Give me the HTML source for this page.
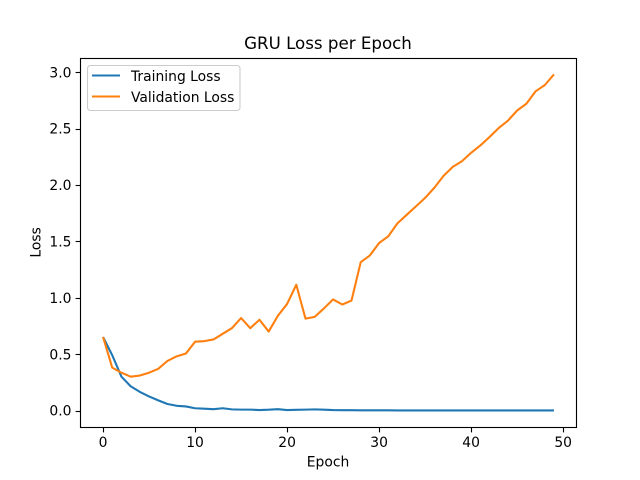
<!DOCTYPE html>
<html>
<head>
<meta charset="utf-8">
<title>GRU Loss per Epoch</title>
<style>
html,body{margin:0;padding:0;background:#fff;}
svg{display:block;}
text{font-family:"DejaVu Sans",sans-serif;fill:#000;}
</style>
</head>
<body>
<svg id="chart" xmlns="http://www.w3.org/2000/svg" width="640" height="480" viewBox="0 0 640 480">
  <rect x="0" y="0" width="640" height="480" fill="#fff"/>
  <g id="series" transform="translate(0.5 0)"></g>
  <g id="xticks"></g>
  <g id="yticks"></g>
  <rect x="80.5" y="58.5" width="496" height="369" fill="none" stroke="#000" stroke-width="1.11"/>
  <text x="328" y="49" font-size="16.67" text-anchor="middle">GRU Loss per Epoch</text>
  <text x="328" y="466.5" font-size="13.89" text-anchor="middle">Epoch</text>
  <text transform="translate(40.5 242.4) rotate(-90)" font-size="13.89" text-anchor="middle">Loss</text>
  <g>
    <rect x="87.5" y="65.5" width="152.5" height="45" rx="3" ry="3" fill="#fff" fill-opacity="0.8" stroke="#ccc" stroke-width="1.11"/>
    <line x1="92" y1="75.5" x2="120" y2="75.5" stroke="#1f77b4" stroke-width="2.08"/>
    <text x="131" y="81" font-size="13.89">Training Loss</text>
    <line x1="92" y1="96.5" x2="120" y2="96.5" stroke="#ff7f0e" stroke-width="2.08"/>
    <text x="131" y="102" font-size="13.89">Validation Loss</text>
  </g>
</svg>
<script>
const trainingLoss = [0.652,0.49,0.30,0.215,0.165,0.125,0.09,0.058,0.042,0.036,0.02,0.016,0.012,0.02,0.01,0.008,0.008,0.004,0.007,0.012,0.004,0.006,0.008,0.01,0.007,0.004,0.003,0.003,0.002,0.002,0.002,0.002,0.001,0.001,0.001,0.001,0.001,0.001,0.001,0.001,0.001,0.001,0.001,0.001,0.001,0.001,0.001,0.001,0.001,0.001];
const validationLoss = [0.652,0.38,0.335,0.30,0.31,0.335,0.37,0.44,0.48,0.505,0.61,0.615,0.63,0.68,0.73,0.82,0.73,0.805,0.70,0.84,0.945,1.115,0.815,0.83,0.905,0.985,0.94,0.975,1.315,1.375,1.485,1.545,1.66,1.735,1.81,1.885,1.975,2.08,2.16,2.21,2.285,2.35,2.425,2.505,2.57,2.66,2.72,2.83,2.885,2.98];
const xTickValues = [0,10,20,30,40,50];
const yTickValues = [0,0.5,1,1.5,2,2.5,3];
const yTickLabels = ["0.0","0.5","1.0","1.5","2.0","2.5","3.0"];

const NS = "http://www.w3.org/2000/svg";
const plot = {left:80,right:576,top:57.6,bottom:427.2};
const xDomainMax = Math.max(trainingLoss.length, validationLoss.length) - 1;
const allValues = trainingLoss.concat(validationLoss);
const yMin = Math.min(...allValues);
const yMax = Math.max(...allValues);
const yPad = (yMax - yMin) * 0.05;
const xPad = xDomainMax * 0.05;

function xScale(v){
  return plot.left + (v + xPad) / (xDomainMax + 2 * xPad) * (plot.right - plot.left);
}
function yScale(v){
  return plot.bottom - (v - (yMin - yPad)) / (yMax - yMin + 2 * yPad) * (plot.bottom - plot.top);
}
function snap(p){
  return Math.round(p) + 0.5;
}
function linePath(values){
  return values.map(function(v,i){
    return (i ? "L" : "M") + xScale(i).toFixed(2) + " " + yScale(v).toFixed(2);
  }).join(" ");
}

const seriesGroup = document.getElementById("series");
const trainingLine = document.createElementNS(NS,"path");


trainingLine.setAttribute("d", linePath(trainingLoss));
trainingLine.setAttribute("fill", "none");
trainingLine.setAttribute("stroke", "#1f77b4");
trainingLine.setAttribute("stroke-width", "2.08");
trainingLine.setAttribute("stroke-linejoin", "round");
seriesGroup.appendChild(trainingLine);

const validationLine = document.createElementNS(NS,"path");


validationLine.setAttribute("d", linePath(validationLoss));
validationLine.setAttribute("fill", "none");
validationLine.setAttribute("stroke", "#ff7f0e");
validationLine.setAttribute("stroke-width", "2.08");
validationLine.setAttribute("stroke-linejoin", "round");
seriesGroup.appendChild(validationLine);

const xTickGroup = document.getElementById("xticks");
xTickValues.forEach(function(v){
  const x = xScale(v);
  const tick = document.createElementNS(NS,"line");
  
  
  tick.setAttribute("x1", snap(x));
  tick.setAttribute("x2", snap(x));
  tick.setAttribute("y1", 427.5);
  tick.setAttribute("y2", 432.4);
  tick.setAttribute("stroke", "#000");
  tick.setAttribute("stroke-width", "1.11");
  xTickGroup.appendChild(tick);
  const label = document.createElementNS(NS,"text");
  
  
  label.setAttribute("x", x + 0.5);
  label.setAttribute("y", plot.bottom + 20);
  label.setAttribute("font-size", "13.89");
  label.setAttribute("text-anchor", "middle");
  label.textContent = String(v);
  xTickGroup.appendChild(label);
});

const yTickGroup = document.getElementById("yticks");
yTickValues.forEach(function(v,i){
  const y = yScale(v);
  const tick = document.createElementNS(NS,"line");
  
  
  tick.setAttribute("x1", 75.6);
  tick.setAttribute("x2", 80.5);
  tick.setAttribute("y1", snap(y));
  tick.setAttribute("y2", snap(y));
  tick.setAttribute("stroke", "#000");
  tick.setAttribute("stroke-width", "1.11");
  yTickGroup.appendChild(tick);
  const label = document.createElementNS(NS,"text");
  
  
  label.setAttribute("x", plot.left - 8.5);
  label.setAttribute("y", y + 5.2);
  label.setAttribute("font-size", "13.89");
  label.setAttribute("text-anchor", "end");
  label.textContent = yTickLabels[i];
  yTickGroup.appendChild(label);
});
</script>
</body>
</html>
